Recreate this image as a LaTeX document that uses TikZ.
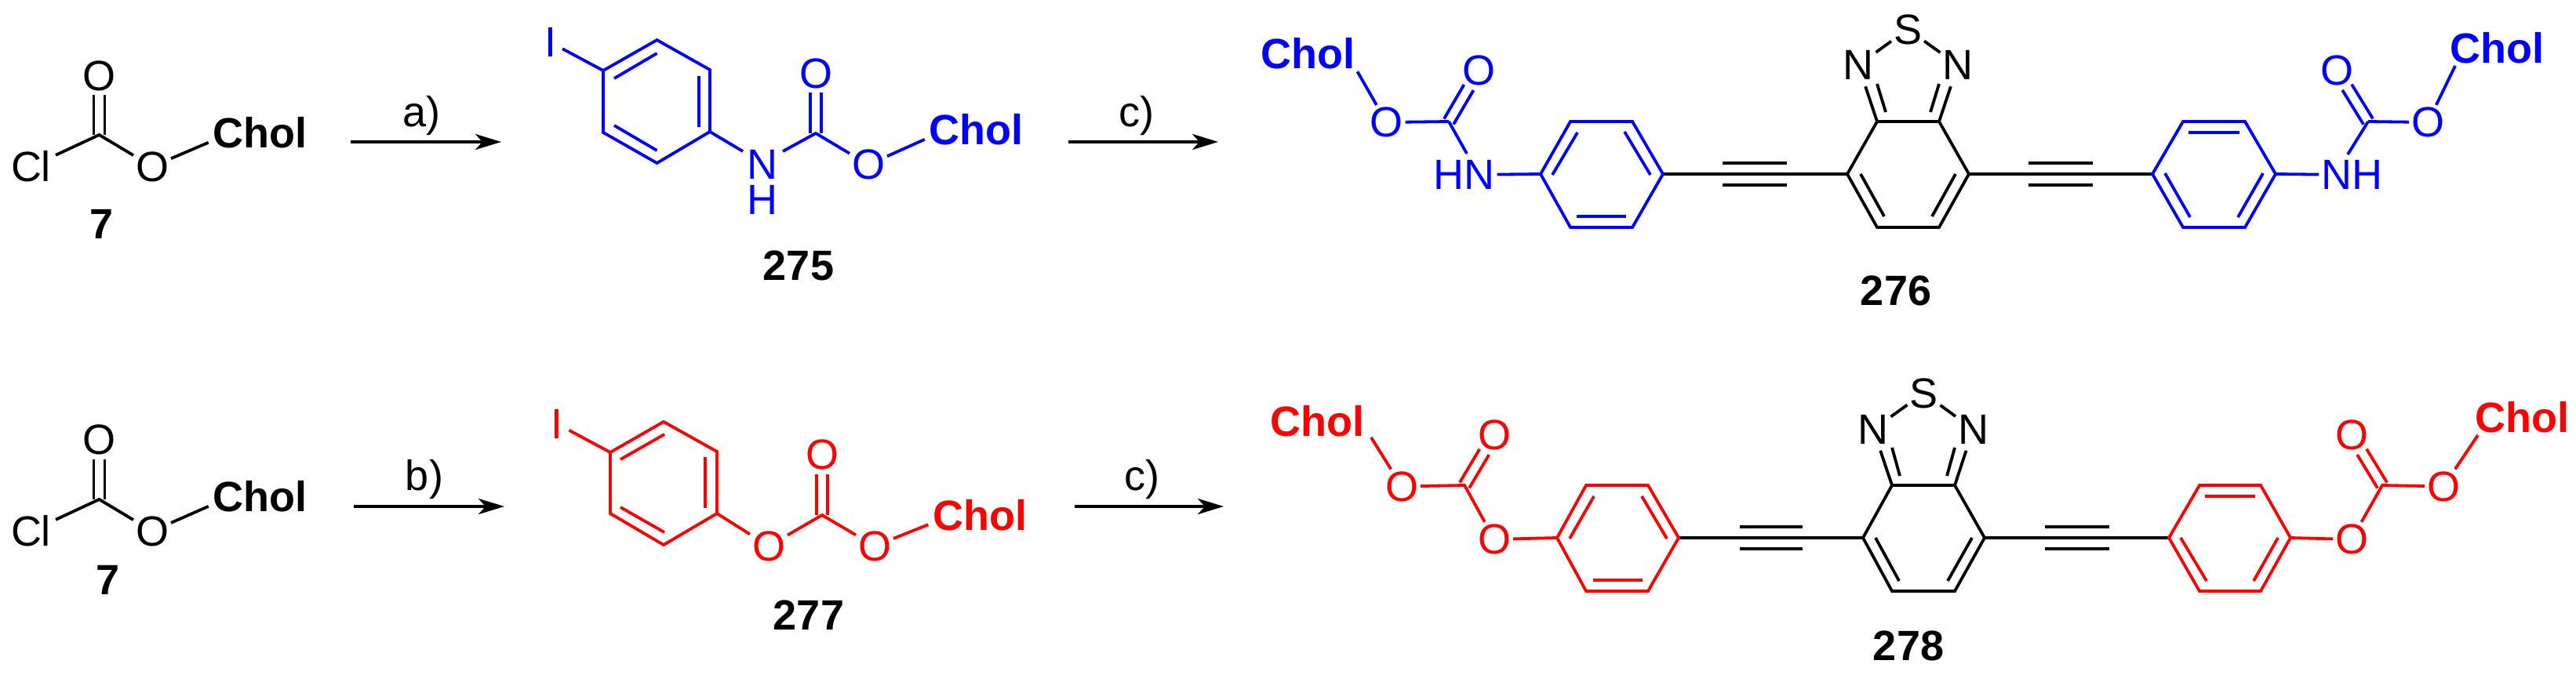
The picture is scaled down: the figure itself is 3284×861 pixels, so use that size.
\documentclass[tikz,border=0pt]{standalone}
\usepackage{fontspec}
\setmainfont{Liberation Sans}
\usetikzlibrary{calc,arrows.meta}
\definecolor{chemblue}{RGB}{0,0,255}
\definecolor{chemred}{RGB}{255,0,0}
\tikzset{
  bond/.style={line width=3.8pt,line cap=butt,line join=miter},
  atom/.style={inner sep=0pt,outer sep=3pt,font=\fontsize{54}{60}\selectfont},
  chol/.style={inner sep=0pt,outer sep=3pt,font=\fontsize{54}{60}\selectfont\bfseries},
  cpd/.style={inner sep=0pt,outer sep=0pt,text=black,font=\fontsize{54}{60}\selectfont\bfseries},
  reag/.style={inner sep=0pt,outer sep=0pt,text=black,font=\fontsize{54}{60}\selectfont},
  rxn/.style={line width=4pt,black,-{Stealth[length=33pt,width=20pt,inset=9pt]}},
}
% carbonyl: two parallel strokes from carbon (#1) to oxygen (#2)
\newcommand{\cdo}[2]{%
  \draw[bond,shorten >=25pt] ($(#1)!7pt!90:(#2)$) -- ($(#2)!7pt!-90:(#1)$);
  \draw[bond,shorten >=25pt] ($(#1)!7pt!-90:(#2)$) -- ($(#2)!7pt!90:(#1)$);}
\begin{document}
\begin{tikzpicture}[x=1pt,y=-1pt]
\useasboundingbox (0,0) rectangle (3284,861);
\fill[white] (0,0) rectangle (3284,861);

% ---------- compound 7, first row
\coordinate (aC) at (126.5,172);
\node[atom] (aO1) at (126.5,96.5) {O};
\node[atom,outer sep=6pt] (aCl) at (39.5,212.5) {Cl};
\node[atom] (aO2) at (194,212.5) {O};
\node[chol] (aCh) at (331.5,169.5) {Chol};
\node[cpd] (a7) at (129.5,285.5) {7};
\cdo{aC}{aO1}
\draw[bond] (aCl) -- (aC) -- (aO2);
\draw[bond,shorten >=3pt] (aO2) -- (aCh.190);

% ---------- compound 7, second row
\coordinate (bC) at (126.5,637);
\node[atom] (bO1) at (126.5,560.5) {O};
\node[atom,outer sep=6pt] (bCl) at (39.5,677.5) {Cl};
\node[atom] (bO2) at (194,677.5) {O};
\node[chol] (bCh) at (331.5,633.5) {Chol};
\node[cpd] (b7) at (138,739.5) {7};
\cdo{bC}{bO1}
\draw[bond] (bCl) -- (bC) -- (bO2);
\draw[bond,shorten >=3pt] (bO2) -- (bCh.190);

% ---------- arrows
\node[reag] (la) at (537.5,147.5) {a)};
\coordinate (a1s) at (447,181); \coordinate (a1e) at (639,181);
\draw[rxn] (a1s) -- (a1e);
\node[reag] (lc1) at (1449,147.5) {c)};
\coordinate (a2s) at (1362,181); \coordinate (a2e) at (1553,181);
\draw[rxn] (a2s) -- (a2e);
\node[reag] (lb) at (541,611.5) {b)};
\coordinate (a3s) at (451,646); \coordinate (a3e) at (643,646);
\draw[rxn] (a3s) -- (a3e);
\node[reag] (lc2) at (1456,611.5) {c)};
\coordinate (a4s) at (1370,646); \coordinate (a4e) at (1560,646);
\draw[rxn] (a4s) -- (a4e);

% ---------- compound 275 (blue)
\begin{scope}[color=chemblue]
\coordinate (c1) at (769,90); \coordinate (c2) at (837.5,51); \coordinate (c3) at (905,89);
\coordinate (c4) at (905,168); \coordinate (c5) at (837.5,208); \coordinate (c6) at (769,169);
\draw[bond] (c1) -- (c2) -- (c3) -- (c4) -- (c5) -- (c6) -- cycle;
\draw[bond] (783,100) -- (837.5,68);
\draw[bond] (891,97) -- (891,162);
\draw[bond] (837.5,192) -- (783,160);
\node[atom,outer sep=8pt] (cI) at (701.5,54) {I};
\draw[bond] (c1) -- (cI);
\node[atom,align=center,font=\fontsize{54}{45}\selectfont] (cNH) at (972,232.5) {N\\H};
\coordinate (cNw) at (947,193); \coordinate (cNe) at (998,193);
\coordinate (cC) at (1040,170);
\node[atom] (cOa) at (1040,93.5) {O};
\node[atom] (cOb) at (1107,210) {O};
\node[chol] (cCh) at (1244.5,165.5) {Chol};
\draw[bond] (c4) -- (cNw);
\draw[bond] (cNe) -- (cC) -- (cOb);
\cdo{cC}{cOa}
\draw[bond,shorten >=3pt] (cOb) -- (cCh.190);
\end{scope}
\node[cpd] (l275) at (1018,338.5) {275};

% ---------- compound 277 (red)
\begin{scope}[color=chemred]
\coordinate (d1) at (778,577); \coordinate (d2) at (846,538); \coordinate (d3) at (914,576);
\coordinate (d4) at (914,655); \coordinate (d5) at (846,695); \coordinate (d6) at (778,655);
\draw[bond] (d1) -- (d2) -- (d3) -- (d4) -- (d5) -- (d6) -- cycle;
\draw[bond] (791,586) -- (847,554);
\draw[bond] (899,583) -- (899,648);
\draw[bond] (847,679) -- (791,647);
\node[atom,outer sep=8pt] (dI) at (710,540.5) {I};
\draw[bond] (d1) -- (dI);
\node[atom] (dOa) at (980,696.5) {O};
\coordinate (dC) at (1048,657);
\node[atom] (dOb) at (1048,580) {O};
\node[atom] (dOc) at (1115,696.5) {O};
\node[chol] (dCh) at (1249,657) {Chol};
\draw[bond] (d4) -- (dOa) -- (dC) -- (dOc);
\cdo{dC}{dOb}
\draw[bond,shorten >=3pt] (dOc) -- (dCh.190);
\end{scope}
\node[cpd] (l277) at (1031,784.5) {277};

% ---------- compound 276, core (black)
\coordinate (e1) at (2355,222); \coordinate (e2) at (2393,155); \coordinate (e3) at (2472,155);
\coordinate (e4) at (2510,222); \coordinate (e5) at (2472,290); \coordinate (e6) at (2393,290);
\draw[bond] (e1) -- (e2) -- (e3) -- (e4) -- (e5) -- (e6) -- cycle;
\draw[bond] (2372,222) -- (2402,276);
\draw[bond] (2493,222) -- (2463,276);
\node[atom] (eNl) at (2369,83) {N};
\node[atom] (eNr) at (2496,83) {N};
\node[atom] (eS) at (2432,37.5) {S};
\draw[bond] (eNl) -- (eS) -- (eNr);
\draw[bond,shorten >=6pt] (e2) -- (eNl);
\draw[bond,shorten >=6pt] (e3) -- (eNr);
\draw[bond] (2404,143) -- (2393,107);
\draw[bond] (2461,143) -- (2472,107);
\coordinate (fr) at (2120,222); \coordinate (gl) at (2744,222);
\draw[bond] (fr) -- (e1);
\draw[bond] (2196,208) -- (2278,208);
\draw[bond] (2196,236) -- (2278,236);
\draw[bond] (e4) -- (gl);
\draw[bond] (2586,208) -- (2668,208);
\draw[bond] (2586,236) -- (2668,236);
\node[cpd] (l276) at (2417,370.5) {276};

% ---------- compound 276, blue arms
\begin{scope}[color=chemblue]
\coordinate (f1) at (1964,222); \coordinate (f2) at (2002,155); \coordinate (f3) at (2081,155);
\coordinate (f5) at (2081,290); \coordinate (f6) at (2002,290);
\draw[bond] (f1) -- (f2) -- (f3) -- (fr) -- (f5) -- (f6) -- cycle;
\draw[bond] (1979,223) -- (2011,169);
\draw[bond] (2071,168) -- (2104,223);
\draw[bond] (2010,276) -- (2073,276);
\node[atom] (fHN) at (1866.5,223) {HN};
\coordinate (fC) at (1847,155);
\node[atom] (fOa) at (1885,90) {O};
\node[atom] (fOb) at (1767.5,156) {O};
\node[chol] (fCh) at (1667.5,68.5) {Chol};
\coordinate (fNe) at (1870,196);
\draw[bond] (f1) -- (fHN);
\draw[bond] (fC) -- (fNe);
\draw[bond] (fC) -- (fOb);
\cdo{fC}{fOa}
\draw[bond] (fOb) -- (fCh.south east);
% right arm
\coordinate (g2) at (2783,155); \coordinate (g3) at (2862,155); \coordinate (g4) at (2901,222);
\coordinate (g5) at (2862,290); \coordinate (g6) at (2783,290);
\draw[bond] (gl) -- (g2) -- (g3) -- (g4) -- (g5) -- (g6) -- cycle;
\draw[bond] (2790,169) -- (2855,169);
\draw[bond] (2760,221) -- (2792,277);
\draw[bond] (2885,221) -- (2853,277);
\node[atom] (gNH) at (2998,223) {NH};
\coordinate (gC) at (3019,155);
\node[atom] (gOa) at (2979,90) {O};
\node[atom] (gOb) at (3095,156) {O};
\node[chol] (gCh) at (3183.5,61) {Chol};
\coordinate (gNe) at (2993,197);
\coordinate (gChe) at (3130,84);
\draw[bond] (g4) -- (gNH);
\draw[bond] (gC) -- (gNe);
\draw[bond] (gC) -- (gOb);
\cdo{gC}{gOa}
\draw[bond] (gOb) -- (gChe);
\end{scope}

% ---------- compound 278, core (black)
\coordinate (h1) at (2375,686); \coordinate (h2) at (2412,619); \coordinate (h3) at (2492,619);
\coordinate (h4) at (2530,686); \coordinate (h5) at (2492,754); \coordinate (h6) at (2412,754);
\draw[bond] (h1) -- (h2) -- (h3) -- (h4) -- (h5) -- (h6) -- cycle;
\draw[bond] (2391,686) -- (2421,741);
\draw[bond] (2514,686) -- (2483,741);
\node[atom] (hNl) at (2388,547.5) {N};
\node[atom] (hNr) at (2515.5,547.5) {N};
\node[atom] (hS) at (2452.5,501.5) {S};
\draw[bond] (hNl) -- (hS) -- (hNr);
\draw[bond,shorten >=6pt] (h2) -- (hNl);
\draw[bond,shorten >=6pt] (h3) -- (hNr);
\draw[bond] (2422,607) -- (2412,571);
\draw[bond] (2482,607) -- (2492,571);
\coordinate (ir) at (2140,686); \coordinate (jl) at (2765,686);
\draw[bond] (ir) -- (h1);
\draw[bond] (2218,672) -- (2298,672);
\draw[bond] (2218,700) -- (2298,700);
\draw[bond] (h4) -- (jl);
\draw[bond] (2607,672) -- (2689,672);
\draw[bond] (2607,700) -- (2689,700);
\node[cpd] (l278) at (2433,824) {278};

% ---------- compound 278, red arms
\begin{scope}[color=chemred]
\coordinate (i1) at (1985,686); \coordinate (i2) at (2022,619); \coordinate (i3) at (2101,619);
\coordinate (i5) at (2101,754); \coordinate (i6) at (2022,754);
\draw[bond] (i1) -- (i2) -- (i3) -- (ir) -- (i5) -- (i6) -- cycle;
\draw[bond] (2001,687) -- (2032,633);
\draw[bond] (2093,633) -- (2125,687);
\draw[bond] (2031,740) -- (2094,740);
\node[atom] (iOa) at (1905,688) {O};
\coordinate (iC) at (1867,619);
\node[atom] (iOb) at (1905,555) {O};
\node[atom] (iOc) at (1787,620.5) {O};
\node[chol] (iCh) at (1679.5,537) {Chol};
\coordinate (iChe) at (1748,558);
\draw[bond] (i1) -- (iOa) -- (iC) -- (iOc);
\cdo{iC}{iOb}
\draw[bond] (iOc) -- (iChe);
% right arm
\coordinate (j2) at (2804,619); \coordinate (j3) at (2882,619); \coordinate (j4) at (2920,686);
\coordinate (j5) at (2882,754); \coordinate (j6) at (2804,754);
\draw[bond] (jl) -- (j2) -- (j3) -- (j4) -- (j5) -- (j6) -- cycle;
\draw[bond] (2811,633) -- (2875,633);
\draw[bond] (2780,686) -- (2813,741);
\draw[bond] (2904,686) -- (2873,741);
\node[atom] (jOa) at (2998,688) {O};
\coordinate (jC) at (3037,619);
\node[atom] (jOb) at (2998,555) {O};
\node[atom] (jOc) at (3115,620.5) {O};
\node[chol] (jCh) at (3215.5,532.5) {Chol};
\coordinate (jChe) at (3159,555);
\draw[bond] (j4) -- (jOa) -- (jC) -- (jOc);
\cdo{jC}{jOb}
\draw[bond] (jOc) -- (jChe);
\end{scope}
\end{tikzpicture}
\end{document}
